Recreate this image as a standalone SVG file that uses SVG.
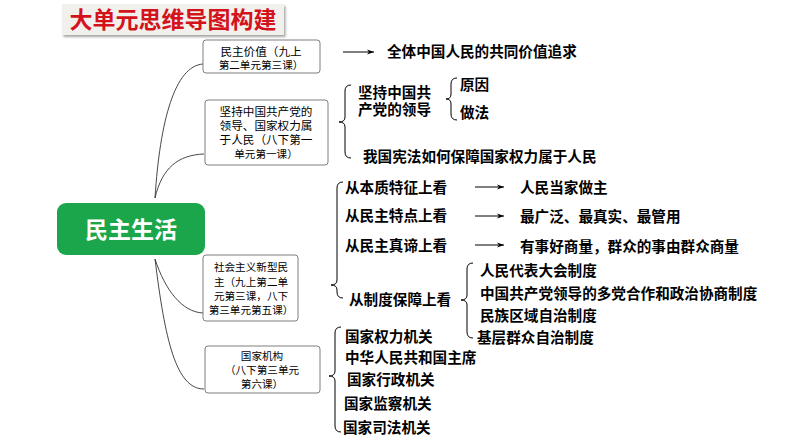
<svg xmlns="http://www.w3.org/2000/svg" width="794" height="447" viewBox="0 0 794 447">
<defs>
<marker id="ah" markerWidth="8" markerHeight="6" refX="7" refY="3" orient="auto" markerUnits="userSpaceOnUse">
<path d="M0,0.5 L7,3 L0,5.5 L2,3 Z" fill="#000"/>
</marker>
<filter id="sh" x="-5%" y="-10%" width="115%" height="140%">
<feDropShadow dx="1.5" dy="2" stdDeviation="1.2" flood-color="#000" flood-opacity="0.35"/>
</filter>
</defs>
<style>
text{font-family:"Liberation Sans","Noto Sans CJK SC",sans-serif;fill:#000}
.t{font-size:14.6px;font-weight:bold}
.b{font-size:11.6px}
.s{font-size:10.6px}
.box{fill:#fff;stroke:#7f7f7f;stroke-width:1}
.br{fill:none;stroke:#000;stroke-width:1}
.cn{fill:none;stroke:#333;stroke-width:0.9}
.ar{stroke:#000;stroke-width:1;marker-end:url(#ah)}
</style>
<rect width="794" height="447" fill="#fff"/>
<g id="title">
<rect x="62" y="4" width="222" height="31" fill="#f1f0ec" filter="url(#sh)"/>
<text x="173" y="28" text-anchor="middle" style="font-size:23px;font-weight:bold;fill:#d4121b">大单元思维导图构建</text>
</g>
<g id="connectors">
<path class="cn" d="M155,198 C160,120 175,66 203,64"/>
<path class="cn" d="M155,198 C162,168 178,155 204,154"/>
<path class="cn" d="M155,259 C165,290 182,312 203,313"/>
<path class="cn" d="M155,259 C165,340 176,389 204,389"/>
<line class="ar" x1="343" y1="52" x2="374" y2="52"/>
<line class="ar" x1="475" y1="187" x2="504" y2="187"/>
<line class="ar" x1="475" y1="216" x2="504" y2="216"/>
<line class="ar" x1="475" y1="245" x2="504" y2="245"/>
<path class="br" d="M351,85 Q345,85 345,91 L345,117 Q345,122 339,122 Q345,122 345,127 L345,152 Q345,158 351,158"/>
<path class="br" d="M457,78 Q451,78 451,84 L451,94 Q451,99 446,99 Q451,99 451,104 L451,114 Q451,120 457,120"/>
<path class="br" d="M343,182 Q337,182 337,188 L337,280 Q337,285 331,285 Q337,285 337,290 L337,292 Q337,298 343,298"/>
<path class="br" d="M473,263 Q467,263 467,269 L467,295 Q467,300 461,300 Q467,300 467,305 L467,332 Q467,338 473,338"/>
<path class="br" d="M341,327 Q335,327 335,333 L335,371 Q335,376 329,376 Q335,376 335,381 L335,426 Q335,432 341,432"/>
</g>
<g id="center">
<rect x="57" y="203" width="148" height="52" rx="9" fill="#1ba64b"/>
<text x="131" y="238" text-anchor="middle" style="font-size:23px;font-weight:bold;fill:#fff">民主生活</text>
</g>
<g id="box1">
<rect class="box" x="203" y="40" width="117" height="33" rx="3"/>
<text class="b" x="261" y="56" text-anchor="middle">民主价值（九上</text>
<text class="s" x="261" y="69" text-anchor="middle">第二单元第三课）</text>
</g>
<g id="box2">
<rect class="box" x="205" y="100" width="123" height="65" rx="3"/>
<text class="b" x="266" y="116" text-anchor="middle">坚持中国共产党的</text>
<text class="b" x="266" y="130" text-anchor="middle">领导、国家权力属</text>
<text class="b" x="266" y="144" text-anchor="middle">于人民（八下第一</text>
<text class="s" x="266" y="158" text-anchor="middle">单元第一课）</text>
</g>
<g id="box3">
<rect class="box" x="203" y="255" width="95" height="66" rx="3"/>
<text class="s" x="251" y="271" text-anchor="middle">社会主义新型民</text>
<text class="s" x="251" y="286" text-anchor="middle">主（九上第二单</text>
<text class="s" x="251" y="300" text-anchor="middle">元第三课，八下</text>
<text class="s" x="251" y="314" text-anchor="middle">第三单元第五课）</text>
</g>
<g id="box4">
<rect class="box" x="205" y="346" width="115" height="47" rx="3"/>
<text class="s" x="262" y="360" text-anchor="middle">国家机构</text>
<text class="s" x="262" y="374" text-anchor="middle">（八下第三单元</text>
<text class="s" x="262" y="388" text-anchor="middle">第六课）</text>
</g>
<g id="value">
<text class="t" x="387" y="57">全体中国人民的共同价值追求</text>
</g>
<g id="leadership">
<text class="t" x="358" y="98">坚持中国共</text>
<text class="t" x="358" y="115">产党的领导</text>
<text class="t" x="460" y="90">原因</text>
<text class="t" x="460" y="118">做法</text>
<text class="t" x="363" y="162">我国宪法如何保障国家权力属于人民</text>
</g>
<g id="democracy">
<text class="t" x="345" y="193">从本质特征上看</text>
<text class="t" x="345" y="221">从民主特点上看</text>
<text class="t" x="345" y="251">从民主真谛上看</text>
<text class="t" x="349" y="305">从制度保障上看</text>
<text class="t" x="520" y="193">人民当家做主</text>
<text class="t" x="520" y="222">最广泛、最真实、最管用</text>
<text class="t" x="520" y="252">有事好商量，群众的事由群众商量</text>
</g>
<g id="systems">
<text class="t" x="480" y="276">人民代表大会制度</text>
<text class="t" x="480" y="299">中国共产党领导的多党合作和政治协商制度</text>
<text class="t" x="480" y="321">民族区域自治制度</text>
<text class="t" x="477" y="343">基层群众自治制度</text>
</g>
<g id="organs">
<text class="t" x="345" y="342">国家权力机关</text>
<text class="t" x="345" y="363">中华人民共和国主席</text>
<text class="t" x="347" y="385">国家行政机关</text>
<text class="t" x="344" y="409">国家监察机关</text>
<text class="t" x="343" y="433">国家司法机关</text>
</g>
</svg>
